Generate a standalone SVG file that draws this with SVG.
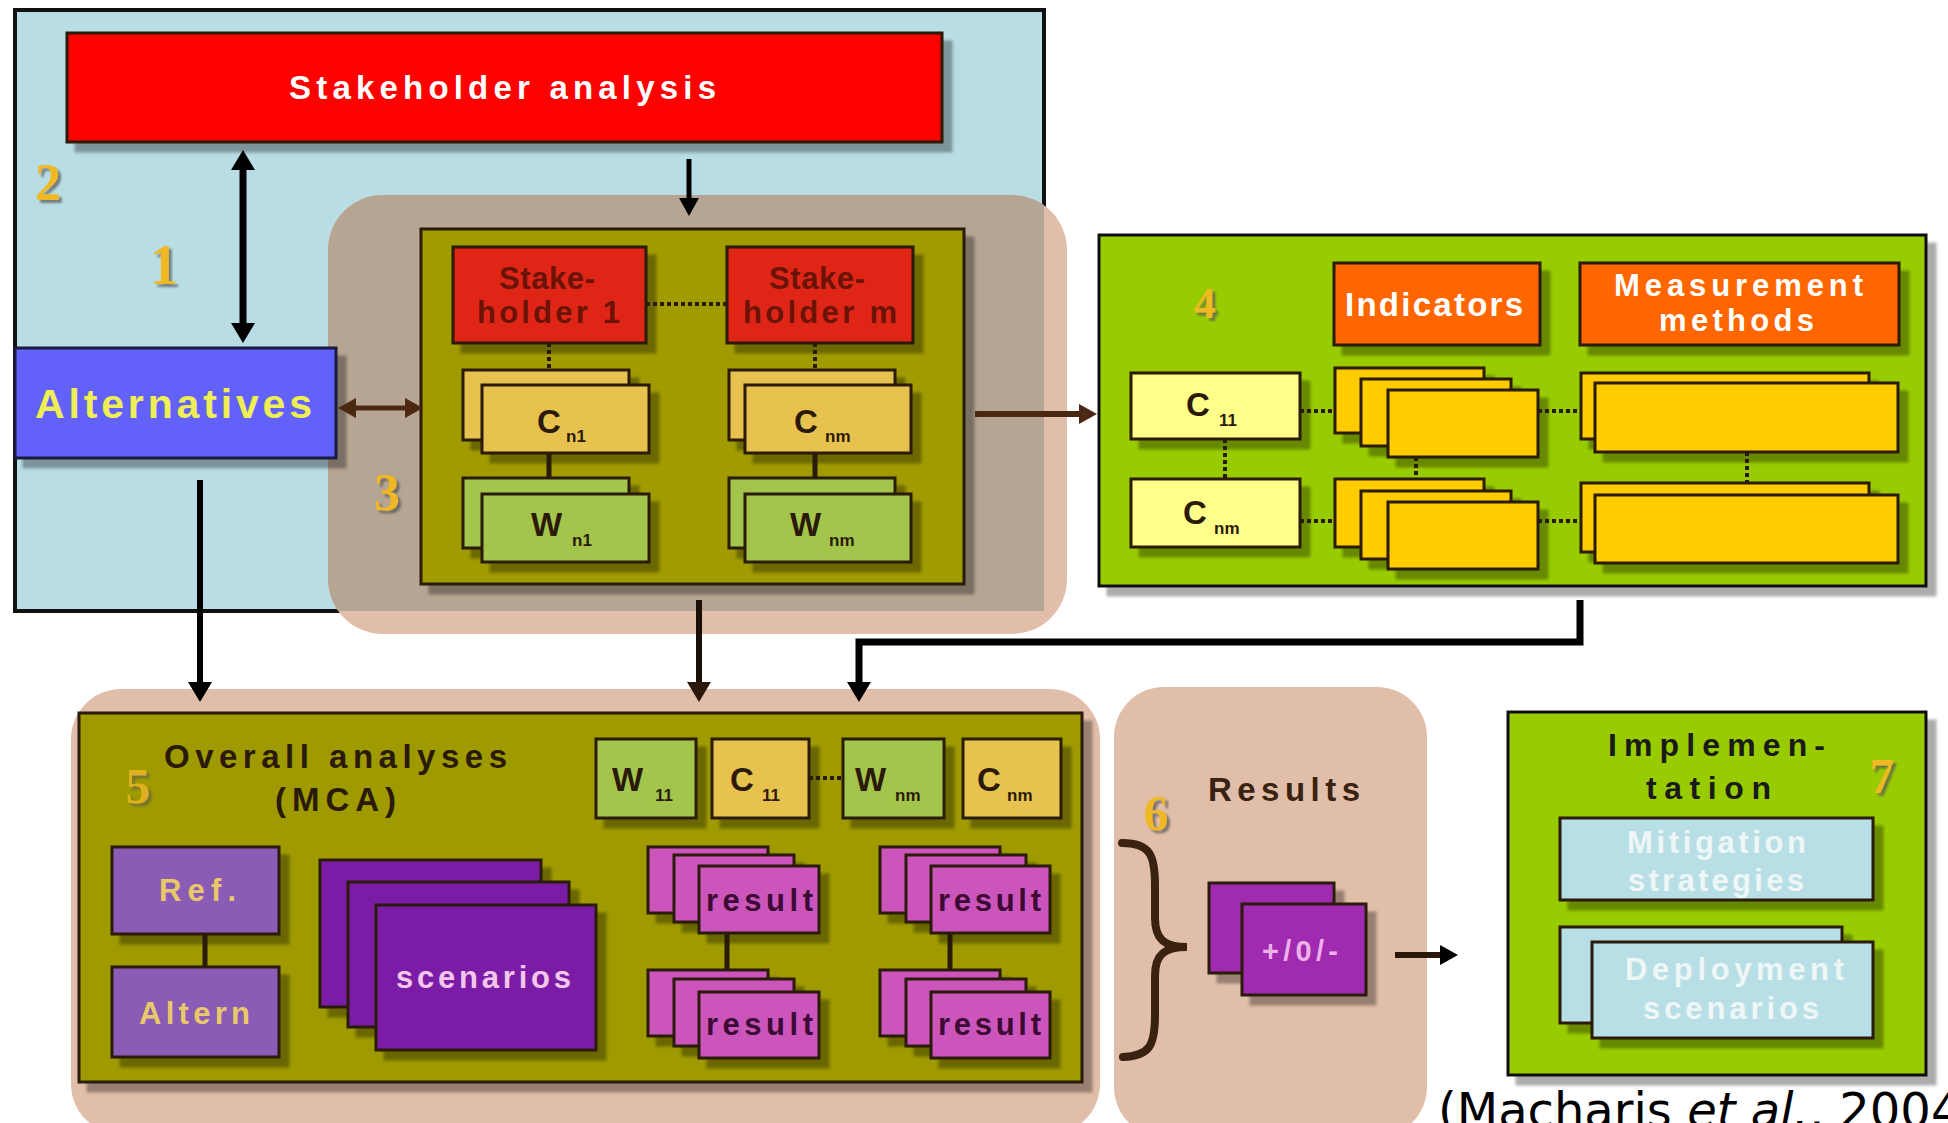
<svg xmlns="http://www.w3.org/2000/svg" width="1948" height="1123" viewBox="0 0 1948 1123">
<defs>
<filter id="sh" x="-10%" y="-10%" width="130%" height="140%"><feDropShadow dx="9" dy="9" stdDeviation="1.5" flood-color="#000" flood-opacity="0.33"/></filter>
<filter id="nsh" x="-20%" y="-20%" width="160%" height="160%"><feDropShadow dx="3" dy="3" stdDeviation="1" flood-color="#555" flood-opacity="0.7"/></filter>
<clipPath id="c3"><rect x="328" y="195" width="739" height="439" rx="55"/></clipPath>
<marker id="ah" viewBox="0 0 20 24" refX="2" refY="12" markerWidth="20" markerHeight="24" markerUnits="userSpaceOnUse" orient="auto-start-reverse"><path d="M0,0 L20,12 L0,24 z" fill="#000"/></marker>
<marker id="ahs" viewBox="0 0 18 20" refX="2" refY="10" markerWidth="18" markerHeight="20" markerUnits="userSpaceOnUse" orient="auto-start-reverse"><path d="M0,0 L18,10 L0,20 z" fill="#000"/></marker>
<marker id="ahb" viewBox="0 0 18 20" refX="2" refY="10" markerWidth="18" markerHeight="20" markerUnits="userSpaceOnUse" orient="auto-start-reverse"><path d="M0,0 L18,10 L0,20 z" fill="#4a2812"/></marker>
<marker id="ahd" viewBox="0 0 20 24" refX="2" refY="12" markerWidth="20" markerHeight="24" markerUnits="userSpaceOnUse" orient="auto-start-reverse"><path d="M0,0 L20,12 L0,24 z" fill="#2a180a"/></marker>
</defs>
<style>
.b{stroke:#2a1a0a;stroke-width:3}
.s{filter:url(#sh)}
.t{font-family:"Liberation Sans",Arial,sans-serif;font-weight:bold}
.num{font-family:"Liberation Serif","Times New Roman",serif;font-weight:bold;fill:#f0b820;filter:url(#nsh);text-anchor:middle}
.dk{fill:#2b1a0a}
.sub{font-size:17px}
.big{font-size:33px}
.cg{fill:#e7c24f}
.wg{fill:#a3c54b}
.iy{fill:#ffcc00}
.rs{fill:#cc55bb}
.dot{stroke:#2a1a0a;stroke-width:4;stroke-dasharray:4 3;fill:none}
.sol{stroke:#2a1a0a;stroke-width:5;fill:none}
</style>
<rect width="1948" height="1123" fill="#ffffff"/>

<g id="frame-2">
<rect x="15" y="10" width="1029" height="601" fill="#b9dde5" stroke="#111" stroke-width="4"/>
<text class="num" x="48" y="200" font-size="52">2</text>
<text class="num" x="164" y="284" font-size="56">1</text>
</g>

<g id="region-3">
<rect x="328" y="195" width="739" height="439" rx="55" fill="#e1bea9"/>
<rect x="15" y="10" width="1029" height="601" fill="#b6a593" clip-path="url(#c3)"/>
<text class="num" x="387" y="510" font-size="52">3</text>
</g>

<g id="stakeholder-analysis">
<rect class="b s" x="67" y="33" width="875" height="109" fill="#ff0000"/>
<text class="t" x="289" y="99" font-size="33" fill="#fff" textLength="427" lengthAdjust="spacing">Stakeholder analysis</text>
</g>

<g id="alternatives">
<rect class="s" x="15" y="348" width="321" height="110" fill="#6262fa" stroke="#1a1a40" stroke-width="3"/>
<text class="t" x="35" y="418" font-size="41" fill="#eeee55" textLength="277" lengthAdjust="spacing">Alternatives</text>
</g>

<g id="criteria-weights">
<rect class="b s" x="421" y="229" width="543" height="355" fill="#a09b00"/>
<g id="stakeholder-1">
<rect class="b s" x="453" y="247" width="193" height="96" fill="#df2513"/>
<text class="t" x="499" y="289" font-size="31" fill="#6b1307" textLength="96" lengthAdjust="spacing">Stake-</text>
<text class="t" x="477" y="323" font-size="31" fill="#6b1307" textLength="143" lengthAdjust="spacing">holder 1</text>
</g>
<g id="stakeholder-m">
<rect class="b s" x="727" y="247" width="186" height="96" fill="#df2513"/>
<text class="t" x="769" y="289" font-size="31" fill="#6b1307" textLength="96" lengthAdjust="spacing">Stake-</text>
<text class="t" x="743" y="323" font-size="31" fill="#6b1307" textLength="154" lengthAdjust="spacing">holder m</text>
</g>
<g id="c-n1">
<rect class="b s cg" x="463" y="370" width="166" height="70"/>
<rect class="b s cg" x="482" y="385" width="167" height="68"/>
<text class="t dk"><tspan class="big" x="537" y="433">C</tspan><tspan class="sub" x="566" y="442">n1</tspan></text>
</g>
<g id="c-nm">
<rect class="b s cg" x="729" y="370" width="166" height="70"/>
<rect class="b s cg" x="745" y="385" width="166" height="68"/>
<text class="t dk"><tspan class="big" x="794" y="433">C</tspan><tspan class="sub" x="825" y="442">nm</tspan></text>
</g>
<g id="w-n1">
<rect class="b s wg" x="463" y="478" width="166" height="70"/>
<rect class="b s wg" x="482" y="494" width="167" height="68"/>
<text class="t dk"><tspan class="big" x="531" y="536">W</tspan><tspan class="sub" x="572" y="546">n1</tspan></text>
</g>
<g id="w-nm">
<rect class="b s wg" x="729" y="478" width="166" height="70"/>
<rect class="b s wg" x="745" y="494" width="166" height="68"/>
<text class="t dk"><tspan class="big" x="790" y="536">W</tspan><tspan class="sub" x="829" y="546">nm</tspan></text>
</g>
<path class="dot" d="M646,304 H727 M549,343 V370 M815,343 V370"/>
<path class="sol" d="M549,453 V478 M815,453 V478"/>
</g>

<g id="indicators-4">
<rect class="s" x="1099" y="235" width="827" height="351" fill="#99cc00" stroke="#111" stroke-width="3"/>
<text class="num" x="1205" y="318" font-size="44">4</text>
<g id="indicators">
<rect class="b s" x="1334" y="263" width="206" height="82" fill="#ff6600"/>
<text class="t" x="1345" y="316" font-size="33" fill="#fff" textLength="178" lengthAdjust="spacing">Indicators</text>
</g>
<g id="measurement-methods">
<rect class="b s" x="1580" y="263" width="319" height="82" fill="#ff6600"/>
<text class="t" x="1614" y="296" font-size="31" fill="#fff" textLength="249" lengthAdjust="spacing">Measurement</text>
<text class="t" x="1659" y="331" font-size="31" fill="#fff" textLength="155" lengthAdjust="spacing">methods</text>
</g>
<g id="c11-4">
<rect class="b s" x="1131" y="373" width="169" height="66" fill="#ffff8a"/>
<text class="t dk"><tspan class="big" x="1186" y="416">C</tspan><tspan class="sub" x="1219" y="426">11</tspan></text>
</g>
<g id="cnm-4">
<rect class="b s" x="1131" y="479" width="169" height="68" fill="#ffff8a"/>
<text class="t dk"><tspan class="big" x="1183" y="524">C</tspan><tspan class="sub" x="1214" y="534">nm</tspan></text>
</g>
<g id="indicator-stack-1">
<rect class="b s iy" x="1335" y="368" width="149" height="65"/>
<rect class="b s iy" x="1361" y="379" width="150" height="67"/>
<rect class="b s iy" x="1388" y="390" width="150" height="67"/>
</g>
<g id="indicator-stack-2">
<rect class="b s iy" x="1335" y="479" width="149" height="68"/>
<rect class="b s iy" x="1361" y="491" width="150" height="68"/>
<rect class="b s iy" x="1388" y="502" width="150" height="67"/>
</g>
<g id="method-stack-1">
<rect class="b s iy" x="1581" y="373" width="288" height="66"/>
<rect class="b s iy" x="1595" y="383" width="303" height="69"/>
</g>
<g id="method-stack-2">
<rect class="b s iy" x="1581" y="483" width="288" height="69"/>
<rect class="b s iy" x="1595" y="495" width="303" height="68"/>
</g>
<path class="dot" d="M1225,439 V479 M1300,411 H1335 M1300,521 H1335 M1416,457 V479 M1538,411 H1581 M1538,521 H1581 M1747,452 V483"/>
</g>

<g id="region-5">
<rect x="71" y="689" width="1029" height="445" rx="50" fill="#e1bea9"/>
</g>
<g id="overall-analyses-5">
<rect class="b s" x="79" y="713" width="1003" height="369" fill="#9e9a00"/>
<text class="num" x="138" y="803" font-size="50" fill-opacity="0.8">5</text>
<text class="t dk" x="164" y="768" font-size="33" textLength="343" lengthAdjust="spacing">Overall analyses</text>
<text class="t dk" x="275" y="811" font-size="33" textLength="121" lengthAdjust="spacing">(MCA)</text>
<g id="w11-5">
<rect class="b s wg" x="596" y="739" width="100" height="79"/>
<text class="t dk"><tspan class="big" x="612" y="791">W</tspan><tspan class="sub" x="655" y="801">11</tspan></text>
</g>
<g id="c11-5">
<rect class="b s cg" x="712" y="739" width="97" height="79"/>
<text class="t dk"><tspan class="big" x="730" y="791">C</tspan><tspan class="sub" x="762" y="801">11</tspan></text>
</g>
<g id="wnm-5">
<rect class="b s wg" x="843" y="739" width="101" height="79"/>
<text class="t dk"><tspan class="big" x="855" y="791">W</tspan><tspan class="sub" x="895" y="801">nm</tspan></text>
</g>
<g id="cnm-5">
<rect class="b s cg" x="963" y="739" width="98" height="79"/>
<text class="t dk"><tspan class="big" x="977" y="791">C</tspan><tspan class="sub" x="1007" y="801">nm</tspan></text>
</g>
<g id="ref">
<rect class="b s" x="112" y="847" width="167" height="87" fill="#8a5cb5"/>
<text class="t" x="159" y="901" font-size="31" fill="#e9c86a" textLength="77" lengthAdjust="spacing">Ref.</text>
</g>
<g id="altern">
<rect class="b s" x="112" y="967" width="167" height="90" fill="#8a5cb5"/>
<text class="t" x="139" y="1024" font-size="31" fill="#e9c86a" textLength="111" lengthAdjust="spacing">Altern</text>
</g>
<g id="scenarios">
<rect class="b s" x="320" y="860" width="221" height="147" fill="#7a1ea6"/>
<rect class="b s" x="348" y="882" width="221" height="145" fill="#7a1ea6"/>
<rect class="b s" x="376" y="905" width="220" height="145" fill="#7a1ea6"/>
<text class="t" x="396" y="988" font-size="31" fill="#f3c6ea" textLength="175" lengthAdjust="spacing">scenarios</text>
</g>
<g id="result-1">
<rect class="b s rs" x="648" y="847" width="120" height="66"/>
<rect class="b s rs" x="674" y="855" width="120" height="67"/>
<rect class="b s rs" x="699" y="866" width="120" height="67"/>
<text class="t" x="706" y="911" font-size="31" fill="#3d0a35" textLength="107" lengthAdjust="spacing">result</text>
</g>
<g id="result-2">
<rect class="b s rs" x="648" y="970" width="120" height="66"/>
<rect class="b s rs" x="674" y="979" width="120" height="67"/>
<rect class="b s rs" x="699" y="992" width="120" height="66"/>
<text class="t" x="706" y="1035" font-size="31" fill="#3d0a35" textLength="107" lengthAdjust="spacing">result</text>
</g>
<g id="result-3">
<rect class="b s rs" x="880" y="847" width="120" height="66"/>
<rect class="b s rs" x="906" y="855" width="120" height="67"/>
<rect class="b s rs" x="931" y="866" width="119" height="67"/>
<text class="t" x="938" y="911" font-size="31" fill="#3d0a35" textLength="103" lengthAdjust="spacing">result</text>
</g>
<g id="result-4">
<rect class="b s rs" x="880" y="970" width="120" height="66"/>
<rect class="b s rs" x="906" y="979" width="120" height="67"/>
<rect class="b s rs" x="931" y="992" width="119" height="66"/>
<text class="t" x="938" y="1035" font-size="31" fill="#3d0a35" textLength="103" lengthAdjust="spacing">result</text>
</g>
<path class="sol" d="M205,934 V967 M727,933 V970 M950,933 V970"/>
<path class="dot" d="M809,778 H843"/>
</g>

<g id="results-6">
<rect x="1114" y="687" width="313" height="450" rx="50" fill="#e1bea9"/>
<text class="num" x="1156" y="830" font-size="50">6</text>
<text class="t" x="1208" y="801" font-size="33" fill="#3a2210" textLength="152" lengthAdjust="spacing">Results</text>
<path d="M1122,843 C1150,843 1155,855 1155,885 L1155,918 C1155,940 1165,947 1187,947 C1165,947 1155,954 1155,976 L1155,1015 C1155,1045 1150,1056 1123,1057" fill="none" stroke="#3a2210" stroke-width="8" stroke-linecap="round"/>
<g id="outcome">
<rect class="b s" x="1209" y="883" width="125" height="90" fill="#a02cb0"/>
<rect class="b s" x="1242" y="904" width="124" height="91" fill="#a02cb0"/>
<text class="t" x="1262" y="961" font-size="29" fill="#eeb0ea" textLength="76" lengthAdjust="spacing">+/0/-</text>
</g>
</g>

<g id="implementation-7">
<rect class="s" x="1508" y="712" width="418" height="363" fill="#99cc00" stroke="#111" stroke-width="3"/>
<text class="t" x="1608" y="756" font-size="32" fill="#1a1a1a" textLength="217" lengthAdjust="spacing">Implemen-</text>
<text class="t" x="1646" y="799" font-size="32" fill="#1a1a1a" textLength="125" lengthAdjust="spacing">tation</text>
<text class="num" x="1882" y="793" font-size="50">7</text>
<g id="mitigation">
<rect class="b s" x="1560" y="818" width="313" height="82" fill="#b9dfe6" stroke="#111"/>
<text class="t" x="1627" y="853" font-size="31" fill="#eef6f6" textLength="179" lengthAdjust="spacing">Mitigation</text>
<text class="t" x="1628" y="891" font-size="31" fill="#eef6f6" textLength="176" lengthAdjust="spacing">strategies</text>
</g>
<g id="deployment">
<rect class="b s" x="1560" y="927" width="282" height="96" fill="#b9dfe6"/>
<rect class="b s" x="1592" y="942" width="281" height="96" fill="#b9dfe6"/>
<text class="t" x="1625" y="980" font-size="31" fill="#eef6f6" textLength="219" lengthAdjust="spacing">Deployment</text>
<text class="t" x="1643" y="1019" font-size="31" fill="#eef6f6" textLength="176" lengthAdjust="spacing">scenarios</text>
</g>
</g>

<g id="connectors" fill="none">
<line x1="243" y1="168" x2="243" y2="325" stroke="#000" stroke-width="7" marker-start="url(#ah)" marker-end="url(#ah)"/>
<line x1="689" y1="159" x2="689" y2="200" stroke="#000" stroke-width="5" marker-end="url(#ahs)"/>
<line x1="354" y1="408" x2="407" y2="408" stroke="#4a2812" stroke-width="5" marker-start="url(#ahb)" marker-end="url(#ahb)"/>
<line x1="975" y1="414" x2="1081" y2="414" stroke="#4a2812" stroke-width="6" marker-end="url(#ahb)"/>
<line x1="200" y1="480" x2="200" y2="684" stroke="#000" stroke-width="6" marker-end="url(#ah)"/>
<line x1="699" y1="600" x2="699" y2="684" stroke="#1a1008" stroke-width="6" marker-end="url(#ahd)"/>
<polyline points="1580,600 1580,642 859,642 859,684" stroke="#000" stroke-width="7" marker-end="url(#ah)"/>
<line x1="1395" y1="955" x2="1442" y2="955" stroke="#2a180a" stroke-width="6" marker-end="url(#ahs)"/>
</g>

<text x="1438" y="1127" font-family="DejaVu Sans, Verdana, sans-serif" font-size="48" fill="#000">(Macharis <tspan font-style="italic">et al.</tspan>, 2004)</text>
</svg>
